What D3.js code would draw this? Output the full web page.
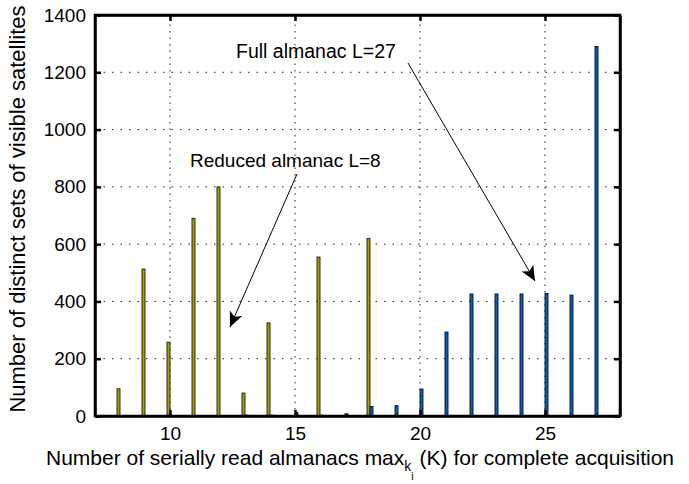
<!DOCTYPE html>
<html>
<head>
<meta charset="utf-8">
<script src="https://cdn.jsdelivr.net/npm/d3@7"></script>
<style>
  body { margin: 0; background: #fff; }
  svg { font-family: "Liberation Sans", Arial, Helvetica, sans-serif; }
</style>
</head>
<body>
<svg id="chart" width="689" height="484"></svg>
<script>
// number of serially read almanacs K
const kValues = [8, 9, 10, 11, 12, 13, 14, 15, 16, 17, 18, 19, 20, 21, 22, 23, 24, 25, 26, 27];
// reduced almanac L=8
const reducedCounts = [95, 513, 258, 690, 800, 80, 325, 0, 555, 0, 620, 0, 0, 0, 0, 0, 0, 0, 0, 0];
// full almanac L=27
const fullCounts = [0, 0, 0, 0, 0, 3, 3, 12, 3, 8, 33, 36, 94, 293, 426, 426, 426, 428, 422, 1290];
const xTicks = [10, 15, 20, 25];
const yTicks = [0, 200, 400, 600, 800, 1000, 1200, 1400];

const margin = { left: 95, right: 69, top: 15, bottom: 68 };
const width = 689, height = 484;
const svg = d3.select('#chart');

const x = d3.scaleLinear().domain([7, 28]).range([margin.left, width - margin.right]);
const y = d3.scaleLinear().domain([0, 1400]).range([height - margin.bottom, margin.top]);

const plot = svg.append('g');

// dotted grid
plot.append('g')
    .selectAll('line')
    .data(xTicks)
    .join('line')
    .attr('x1', d => x(d)).attr('x2', d => x(d))
    .attr('y1', y(0)).attr('y2', y(1400))
    .attr('stroke', '#222').attr('stroke-width', 1).attr('stroke-dasharray', '1.5,5');
plot.append('g')
    .selectAll('line')
    .data(yTicks.slice(1, -1))
    .join('line')
    .attr('x1', x(7)).attr('x2', x(28))
    .attr('y1', d => y(d)).attr('y2', d => y(d))
    .attr('stroke', '#222').attr('stroke-width', 1).attr('stroke-dasharray', '1.5,7');

// bars
const barW = 3;
const rows = kValues.map((k, i) => ({ k, reduced: reducedCounts[i], full: fullCounts[i] }));

plot.append('g')
    .selectAll('rect')
    .data(rows.filter(d => d.reduced > 0))
    .join('rect')
    .attr('x', d => x(d.k) - barW)
    .attr('width', barW)
    .attr('y', d => y(d.reduced))
    .attr('height', d => y(0) - y(d.reduced))
    .attr('fill', '#a3a300')
    .attr('stroke', '#1a1a1a')
    .attr('stroke-width', 0.9);

plot.append('g')
    .selectAll('rect')
    .data(rows.filter(d => d.full > 0))
    .join('rect')
    .attr('x', d => x(d.k))
    .attr('width', barW)
    .attr('y', d => y(d.full))
    .attr('height', d => y(0) - y(d.full))
    .attr('fill', '#0a62b8')
    .attr('stroke', '#0a0a1a')
    .attr('stroke-width', 0.9);

// axes (ticks inward, box)
const axisBottom = d3.axisBottom(x).tickValues(xTicks).tickSizeInner(-6).tickSizeOuter(0).tickPadding(11);
const axisLeft = d3.axisLeft(y).tickValues(yTicks).tickSizeInner(-6).tickSizeOuter(0).tickPadding(9)
    .tickFormat(d3.format('d'));

svg.append('g')
    .attr('transform', `translate(0,${y(0)})`)
    .call(axisBottom);
svg.append('g')
    .attr('transform', `translate(${x(7)},0)`)
    .call(axisLeft);
svg.append('g')
    .attr('transform', `translate(0,${y(1400)})`)
    .call(d3.axisTop(x).tickValues(xTicks).tickSizeInner(-6).tickSizeOuter(0).tickFormat(''));
svg.append('g')
    .attr('transform', `translate(${x(28)},0)`)
    .call(d3.axisRight(y).tickValues(yTicks).tickSizeInner(-6).tickSizeOuter(0).tickFormat(''));

svg.selectAll('.domain').attr('stroke', '#000').attr('stroke-width', 2.5);
svg.selectAll('.tick line').attr('stroke', '#000').attr('stroke-width', 2.5);
svg.selectAll('.tick text').attr('font-size', 19).attr('fill', '#000')
    .attr('font-family', '"Liberation Sans", Arial, sans-serif');

// box outline
svg.append('rect')
    .attr('x', x(7)).attr('y', y(1400))
    .attr('width', x(28) - x(7)).attr('height', y(0) - y(1400))
    .attr('fill', 'none').attr('stroke', '#000').attr('stroke-width', 2.5);

// axis labels
const xlab = svg.append('text')
    .attr('x', 46).attr('y', 465)
    .attr('font-size', 21)
    .attr('fill', '#000');
xlab.append('tspan').text('Number of serially read almanacs max');
xlab.append('tspan').attr('font-size', 14).attr('dy', 6).text('k');
xlab.append('tspan').attr('font-size', 11).attr('dy', 9).text('i');
xlab.append('tspan').attr('dy', -15).text(' (K) for complete acquisition');

svg.append('text')
    .attr('transform', 'translate(25,209) rotate(-90)')
    .attr('text-anchor', 'middle')
    .attr('font-size', 22)
    .attr('fill', '#000')
    .text('Number of distinct sets of visible satellites');

// annotations
const defs = svg.append('defs');
defs.append('marker')
    .attr('id', 'arrow')
    .attr('viewBox', '0 0 10 10')
    .attr('refX', 10).attr('refY', 5)
    .attr('markerWidth', 15).attr('markerHeight', 15)
    .attr('markerUnits', 'userSpaceOnUse')
    .attr('orient', 'auto')
    .append('path')
    .attr('d', 'M0,0.5 L10,5 L0,9.5 L2.5,5 Z')
    .attr('fill', '#000');

svg.append('text')
    .attr('x', 236).attr('y', 58)
    .attr('font-size', 19.5).attr('fill', '#000')
    .text('Full almanac L=27');
svg.append('line')
    .attr('x1', 408).attr('y1', 63).attr('x2', 535).attr('y2', 281)
    .attr('stroke', '#000').attr('stroke-width', 1)
    .attr('marker-end', 'url(#arrow)');

svg.append('text')
    .attr('x', 190).attr('y', 167)
    .attr('font-size', 19).attr('fill', '#000')
    .text('Reduced almanac L=8');
svg.append('line')
    .attr('x1', 297).attr('y1', 174).attr('x2', 230).attr('y2', 327)
    .attr('stroke', '#000').attr('stroke-width', 1)
    .attr('marker-end', 'url(#arrow)');
</script>
</body>
</html>
